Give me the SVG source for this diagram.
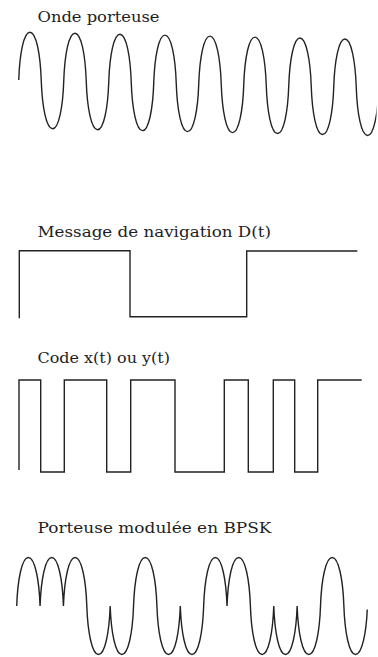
<svg xmlns="http://www.w3.org/2000/svg" width="378" height="657" viewBox="0 0 378 657">
<style>
.lbl{font-family:"DejaVu Serif","Liberation Serif",serif;font-size:15.5px;fill:#1e1e1e}
.sig{fill:none;stroke:#222;stroke-width:1.4;stroke-linejoin:miter}
</style>
<defs>
<clipPath id="clipCarrier"><rect x="0" y="0" width="376.5" height="200"/></clipPath>
</defs>
<rect width="378" height="657" fill="#fff"/>
<g id="carrier">
<text class="lbl" x="37.5" y="22.3" textLength="122" lengthAdjust="spacingAndGlyphs">Onde porteuse</text>
<g clip-path="url(#clipCarrier)">
<path class="sig" transform="matrix(1 0.0215 0 1 0 -0.4)" d="M18.75 80
c0.9 -26.4 5.06 -48 11.25 -48 c6.19 0 10.35 21.6 11.25 48 c0.9 26.4 5.06 48 11.25 48 c6.19 0 10.35 -21.6 11.25 -48
c0.9 -26.4 5.06 -48 11.25 -48 c6.19 0 10.35 21.6 11.25 48 c0.9 26.4 5.06 48 11.25 48 c6.19 0 10.35 -21.6 11.25 -48
c0.9 -26.4 5.06 -48 11.25 -48 c6.19 0 10.35 21.6 11.25 48 c0.9 26.4 5.06 48 11.25 48 c6.19 0 10.35 -21.6 11.25 -48
c0.9 -26.4 5.06 -48 11.25 -48 c6.19 0 10.35 21.6 11.25 48 c0.9 26.4 5.06 48 11.25 48 c6.19 0 10.35 -21.6 11.25 -48
c0.9 -26.4 5.06 -48 11.25 -48 c6.19 0 10.35 21.6 11.25 48 c0.9 26.4 5.06 48 11.25 48 c6.19 0 10.35 -21.6 11.25 -48
c0.9 -26.4 5.06 -48 11.25 -48 c6.19 0 10.35 21.6 11.25 48 c0.9 26.4 5.06 48 11.25 48 c6.19 0 10.35 -21.6 11.25 -48
c0.9 -26.4 5.06 -48 11.25 -48 c6.19 0 10.35 21.6 11.25 48 c0.9 26.4 5.06 48 11.25 48 c6.19 0 10.35 -21.6 11.25 -48
c0.9 -26.4 5.06 -48 11.25 -48 c6.19 0 10.35 21.6 11.25 48 c0.9 26.4 5.06 48 11.25 48 c6.19 0 10.35 -21.6 11.25 -48"/>
</g>
</g>
<g id="message">
<text class="lbl" x="37.5" y="237" textLength="233.5" lengthAdjust="spacingAndGlyphs">Message de navigation D(t)</text>
<path class="sig" d="M19.3 318.3 V250.7 H130 V316.7 H246.7 V251 H357.3"/>
</g>
<g id="code">
<text class="lbl" x="37.5" y="362.7" textLength="132.5" lengthAdjust="spacingAndGlyphs">Code x(t) ou y(t)</text>
<path class="sig" d="M19 470 V380 H40.7 V472 H64.3 V380 H106.7 V472 H130.7 V380 H175 V472 H224.3 V380 H248.3 V472 H273.3 V380 H294.7 V472 H317.7 V380 H361.7"/>
</g>
<g id="bpsk">
<text class="lbl" x="37.5" y="532.5" textLength="234" lengthAdjust="spacingAndGlyphs">Porteuse modulée en BPSK</text>
<path class="sig" d="M16.7 606
c0.93 -26.7 5.26 -48.5 11.685 -48.5 c6.43 0 10.75 21.8 11.685 48.5
c0.93 -26.7 5.26 -48.5 11.685 -48.5 c6.43 0 10.75 21.8 11.685 48.5
c0.93 -26.7 5.26 -48.5 11.685 -48.5 c6.43 0 10.75 21.8 11.685 48.5
c0.93 26.7 5.26 48.5 11.685 48.5 c6.43 0 10.75 -21.8 11.685 -48.5
c0.93 26.7 5.26 48.5 11.685 48.5 c6.43 0 10.75 -21.8 11.685 -48.5
c0.93 -26.7 5.26 -48.5 11.685 -48.5 c6.43 0 10.75 21.8 11.685 48.5
c0.93 26.7 5.26 48.5 11.685 48.5 c6.43 0 10.75 -21.8 11.685 -48.5
c0.93 26.7 5.26 48.5 11.685 48.5 c6.43 0 10.75 -21.8 11.685 -48.5
c0.93 -26.7 5.26 -48.5 11.685 -48.5 c6.43 0 10.75 21.8 11.685 48.5
c0.93 -26.7 5.26 -48.5 11.685 -48.5 c6.43 0 10.75 21.8 11.685 48.5
c0.93 26.7 5.26 48.5 11.685 48.5 c6.43 0 10.75 -21.8 11.685 -48.5
c0.93 26.7 5.26 48.5 11.685 48.5 c6.43 0 10.75 -21.8 11.685 -48.5
c0.93 26.7 5.26 48.5 11.685 48.5 c6.43 0 10.75 -21.8 11.685 -48.5
c0.93 -26.7 5.26 -48.5 11.685 -48.5 c6.43 0 10.75 21.8 11.685 48.5
c0.93 26.7 5.26 48.5 11.685 48.5 c6.43 0 10.75 -21.8 11.685 -45"/>
</g>
</svg>
